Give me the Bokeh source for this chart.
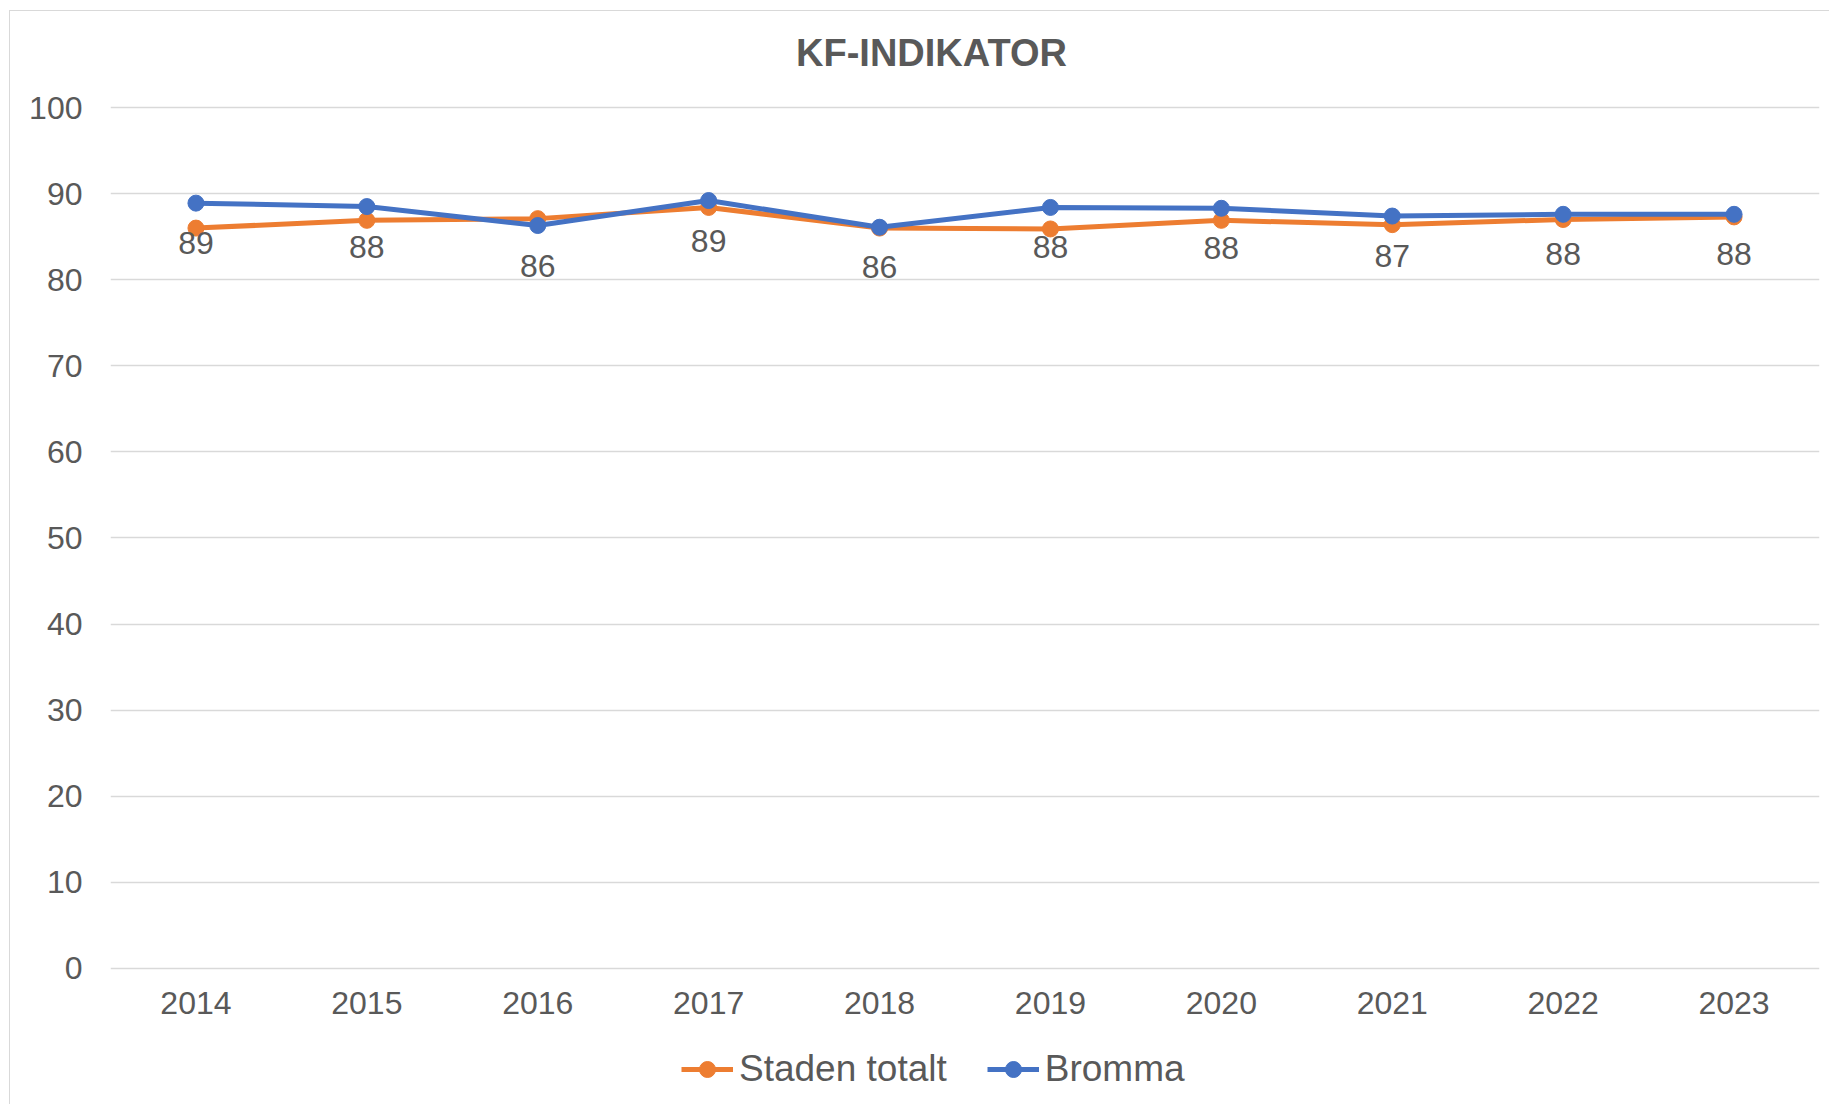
from bokeh.plotting import figure
from bokeh.models import (FactorRange, Range1d, FixedTicker, Legend, LegendItem,
                          ColumnDataSource, Label)
from bokeh.core.properties import value
from bokeh.embed import file_html
from bokeh.resources import INLINE

years = ["2014", "2015", "2016", "2017", "2018", "2019", "2020", "2021", "2022", "2023"]
staden_totalt = [86.0, 86.9, 87.1, 88.4, 86.0, 85.9, 86.9, 86.4, 87.0, 87.3]
bromma = [88.9, 88.5, 86.3, 89.2, 86.1, 88.4, 88.3, 87.4, 87.6, 87.6]
bromma_labels = ["89", "88", "86", "89", "86", "88", "88", "87", "88", "88"]
y_ticks = [0, 10, 20, 30, 40, 50, 60, 70, 80, 90, 100]
title_text = "KF-INDIKATOR"

FONT = "Liberation Sans"
TXT = "#595959"
GRID = "#D9D9D9"
ORANGE = "#ED7D31"
BLUE = "#4472C4"

# layout (pixels): frame spans whole figure height; value axis 0..100 mapped to 860 px
W, H = 1820, 1094
TOP_PAD, BOT_PAD, PX_PER_UNIT = 96, 137, 8.6
y0, y1 = y_ticks[0], y_ticks[-1]
y_lo = y0 - BOT_PAD / PX_PER_UNIT
y_hi = y1 + TOP_PAD / PX_PER_UNIT

p = figure(width=W, height=H, output_backend="svg", toolbar_location=None, title=None,
           x_range=FactorRange(*years, range_padding=0), y_range=Range1d(y_lo, y_hi),
           min_border_left=100, min_border_right=11, min_border_top=0,
           min_border_bottom=0)
p.styles = {"margin-left": "9px", "margin-top": "10px",
            "border-left": "1px solid #D9D9D9", "border-top": "1px solid #D9D9D9"}
p.outline_line_color = None
p.background_fill_color = "white"
p.border_fill_color = "white"

# value axis
p.yaxis.ticker = FixedTicker(ticks=y_ticks)
p.yaxis.axis_line_color = None
p.yaxis.major_tick_line_color = None
p.yaxis.minor_tick_line_color = None
p.yaxis.major_label_text_font = FONT
p.yaxis.major_label_text_font_size = "32px"
p.yaxis.major_label_text_color = TXT
p.yaxis.major_label_standoff = 22

p.xaxis.visible = False
p.xgrid.grid_line_color = None
p.ygrid.grid_line_color = GRID
p.ygrid.grid_line_width = 1.5

src = ColumnDataSource(dict(x=years, s=staden_totalt, b=bromma, lab=bromma_labels,
                            base=[y0] * len(years)))

# category labels under the 0 line
p.text("x", "base", text="x", source=src, text_font=value(FONT), text_font_size="32px",
       text_color=TXT, text_align="center", text_baseline="middle", y_offset=35)

l1 = p.line("x", "s", source=src, line_color=ORANGE, line_width=5)
c1 = p.scatter("x", "s", source=src, size=16, fill_color=ORANGE, line_color=ORANGE)
l2 = p.line("x", "b", source=src, line_color=BLUE, line_width=5)
c2 = p.scatter("x", "b", source=src, size=16, fill_color=BLUE, line_color=BLUE)

p.text("x", "b", text="lab", source=src, text_font=value(FONT), text_font_size="32px",
       text_color=TXT, text_align="center", text_baseline="middle", y_offset=40)

# title
p.add_layout(Label(x=821, y=H - 41, x_units="screen", y_units="screen", text=title_text,
                   text_font=FONT, text_font_size="38px", text_font_style="bold",
                   text_color=TXT, text_align="center", text_baseline="middle"))

legend = Legend(items=[LegendItem(label="Staden totalt", renderers=[l1, c1]),
                       LegendItem(label="Bromma", renderers=[l2, c2])],
                orientation="horizontal", location=(571, 15),
                label_text_font=FONT, label_text_font_size="37px", label_text_color=TXT,
                glyph_width=52, glyph_height=40, label_standoff=6, spacing=40,
                padding=0, margin=0, border_line_color=None, background_fill_alpha=0)
p.add_layout(legend)

open("out.html", "w").write(file_html(p, INLINE))
